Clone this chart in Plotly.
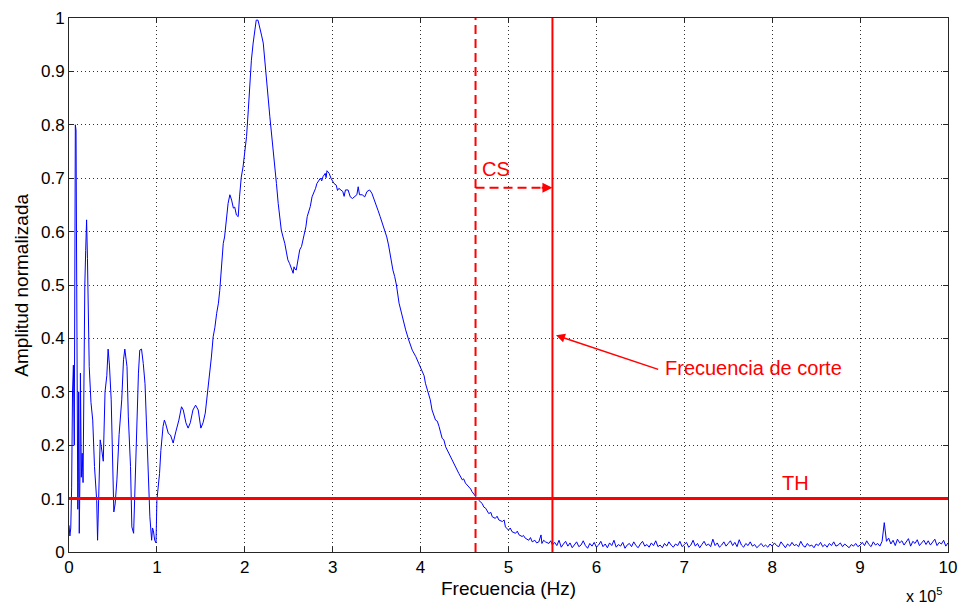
import numpy as np
import plotly.graph_objects as go

# Frequency in units of 1e5 Hz, normalized amplitude
freq_low = [0.0, 0.01, 0.02, 0.03, 0.04, 0.05, 0.06, 0.065, 0.072, 0.08, 0.085, 0.09, 0.095, 0.1,
            0.105, 0.11, 0.117, 0.125, 0.13, 0.14, 0.15, 0.16, 0.17, 0.18, 0.19, 0.2, 0.21, 0.22,
            0.23, 0.25, 0.27, 0.29, 0.305, 0.315, 0.325, 0.335, 0.345, 0.355, 0.365, 0.375, 0.39,
            0.41, 0.43, 0.445, 0.46, 0.48, 0.495, 0.51, 0.525, 0.545, 0.57, 0.6, 0.62, 0.635, 0.66,
            0.675, 0.7, 0.715, 0.735, 0.75, 0.77, 0.79, 0.805, 0.825, 0.845, 0.865, 0.88, 0.9,
            0.92, 0.94, 0.95, 0.96, 0.975, 0.99, 1.0, 1.03, 1.045, 1.07]
amp_low = [0.05, 0.03, 0.045, 0.12, 0.3, 0.35, 0.2, 0.45, 0.8, 0.79, 0.6, 0.48, 0.25, 0.08,
           0.13, 0.3, 0.035, 0.15, 0.335, 0.14, 0.185, 0.13, 0.44, 0.5, 0.565, 0.622, 0.55, 0.45,
           0.347, 0.28, 0.247, 0.16, 0.12, 0.097, 0.022, 0.1, 0.16, 0.21, 0.2, 0.19, 0.17,
           0.3, 0.33, 0.38, 0.35, 0.285, 0.16, 0.075, 0.09, 0.135, 0.22, 0.285, 0.36, 0.38, 0.347,
           0.253, 0.16, 0.047, 0.035, 0.13, 0.253, 0.335, 0.378, 0.38, 0.353, 0.315, 0.247, 0.16,
           0.066, 0.022, 0.045, 0.04, 0.022, 0.017, 0.097, 0.147, 0.19, 0.235]

freq_mid = [1.085, 1.1, 1.13, 1.155, 1.185, 1.215, 1.25, 1.28, 1.3, 1.33, 1.355, 1.38, 1.41, 1.44,
            1.47, 1.5, 1.525, 1.55, 1.575, 1.6, 1.62, 1.64, 1.66, 1.68, 1.7, 1.715, 1.735, 1.755,
            1.77, 1.79, 1.81, 1.83, 1.85, 1.87, 1.885, 1.905, 1.925, 1.94, 1.96, 1.98, 2.0, 2.02,
            2.04, 2.055, 2.075, 2.095, 2.115, 2.13, 2.15, 2.17, 2.19, 2.21, 2.225, 2.245, 2.265,
            2.285, 2.305, 2.32, 2.34, 2.36, 2.38, 2.4, 2.415, 2.435, 2.455, 2.475, 2.49, 2.51,
            2.53, 2.54, 2.55, 2.56, 2.57, 2.585, 2.6]
amp_mid = [0.247, 0.24, 0.222, 0.219, 0.204, 0.225, 0.247, 0.272, 0.266, 0.242, 0.232, 0.242, 0.266, 0.275,
           0.266, 0.232, 0.242, 0.26, 0.297, 0.328, 0.365, 0.403, 0.421, 0.447, 0.466, 0.49, 0.534, 0.578,
           0.59, 0.628, 0.653, 0.669, 0.659, 0.644, 0.646, 0.631, 0.628, 0.665, 0.702, 0.721, 0.747, 0.778,
           0.828, 0.878, 0.921, 0.953, 0.978, 0.996, 0.996, 0.984, 0.968, 0.953, 0.921, 0.89, 0.852,
           0.815, 0.784, 0.753, 0.721, 0.69, 0.653, 0.622, 0.603, 0.59, 0.578, 0.56, 0.547, 0.54,
           0.532, 0.525, 0.522, 0.534, 0.53, 0.528, 0.544]

freq_hump = [2.625, 2.645, 2.67, 2.695, 2.71, 2.725, 2.745, 2.765, 2.785, 2.805, 2.82, 2.835, 2.86,
             2.875, 2.89, 2.915, 2.925, 2.935, 2.96, 2.98, 3.0, 3.015, 3.04, 3.055, 3.07, 3.09,
             3.115, 3.13, 3.145, 3.175, 3.2, 3.225, 3.25, 3.275, 3.29, 3.305, 3.335, 3.365, 3.39,
             3.42, 3.445, 3.47, 3.495, 3.515, 3.54, 3.565, 3.59, 3.615, 3.635, 3.65, 3.665, 3.685,
             3.705, 3.725, 3.755, 3.79]
amp_hump = [0.566, 0.572, 0.59, 0.609, 0.628, 0.635, 0.647, 0.665, 0.672, 0.681, 0.69, 0.693, 0.7,
            0.695, 0.703, 0.709, 0.701, 0.714, 0.709, 0.7, 0.693, 0.69, 0.687, 0.677, 0.681, 0.678,
            0.675, 0.666, 0.678, 0.678, 0.665, 0.662, 0.665, 0.669, 0.684, 0.669, 0.669, 0.665, 0.675,
            0.678, 0.672, 0.659, 0.65, 0.64, 0.628, 0.616, 0.603, 0.59, 0.575, 0.559, 0.547, 0.528,
            0.516, 0.5, 0.466, 0.441]

freq_fall = [3.83, 3.865, 3.905, 3.945, 3.98, 4.02, 4.04, 4.055, 4.095, 4.11, 4.13, 4.17, 4.19, 4.21,
             4.245, 4.265, 4.285, 4.32, 4.34, 4.36, 4.4, 4.42, 4.435, 4.475, 4.49, 4.51, 4.55, 4.57,
             4.585, 4.625, 4.64, 4.66, 4.7, 4.72, 4.74, 4.775, 4.8, 4.815, 4.85, 4.87, 4.89, 4.93,
             4.95, 4.965, 5.0, 5.02, 5.04, 5.08, 5.1, 5.12, 5.155, 5.17, 5.19, 5.23, 5.25, 5.27,
             5.3, 5.32, 5.345, 5.37, 5.38, 5.4, 5.42, 5.46, 5.48, 5.5]
amp_fall = [0.416, 0.397, 0.378, 0.366, 0.353, 0.335, 0.33, 0.316, 0.291, 0.285, 0.266, 0.247, 0.245, 0.235,
            0.213, 0.21, 0.197, 0.185, 0.178, 0.172, 0.157, 0.153, 0.147, 0.135, 0.137, 0.129, 0.122, 0.118,
            0.113, 0.104, 0.1, 0.097, 0.091, 0.084, 0.082, 0.072, 0.074, 0.066, 0.063, 0.067, 0.06, 0.057,
            0.06, 0.047, 0.041, 0.045, 0.038, 0.035, 0.039, 0.032, 0.029, 0.031, 0.026, 0.022, 0.027, 0.019,
            0.022, 0.017, 0.019, 0.032, 0.016, 0.022, 0.019, 0.016, 0.021, 0.013]

# noise floor from 5.525 to 10.0 (step 0.025)
amp_tail = [
    .018, .012, .022, .009, .015, .02, .011, .017, .008, .014,
    .019, .01, .013, .021, .012, .007, .016, .011, .018, .009,
    .013, .02, .01, .015, .008, .017, .012, .022, .009, .014,
    .011, .018, .007, .013, .016, .01, .019, .012, .008, .015,
    .02, .011, .014, .009, .017, .012, .021, .01, .013, .008,
    .016, .011, .019, .013, .009, .015, .012, .02, .01, .014,
    .018, .009, .013, .022, .011, .016, .008, .014, .02, .012,
    .015, .01, .024, .012, .017, .009, .013, .019, .011, .016,
    .021, .012, .018, .01, .023, .013, .009, .016, .012, .019,
    .011, .014, .008, .012, .016, .01, .013, .009, .015, .011,
    .017, .012, .01, .019, .013, .008, .015, .011, .018, .012,
    .014, .01, .02, .012, .009, .016, .011, .013, .008, .015,
    .012, .018, .01, .014, .009, .016, .012, .019, .011, .013,
    .017, .01, .015, .012, .008, .014, .011, .016, .01, .013,
    .018, .012, .021, .014, .01, .019, .013, .016, .011, .02,
    .055, .02, .026, .015, .022, .012, .024, .017, .021, .013,
    .019, .025, .011, .02, .016, .023, .012, .018, .022, .014,
    .021, .013, .019, .024, .012, .018, .015, .022, .011, .017]
freq_tail = list(np.round(5.5 + 0.025 * np.arange(1, len(amp_tail) + 1), 3))

freq = freq_low + freq_mid + freq_hump + freq_fall + freq_tail
amp = amp_low + amp_mid + amp_hump + amp_fall + amp_tail

threshold = 0.1          # TH
cs_freq = 4.625          # crossing of threshold
cut_freq = 5.5           # cut-off frequency
cs_level = 0.682

x_ticks = list(range(0, 11))
y_ticks = [0, 0.1, 0.2, 0.3, 0.4, 0.5, 0.6, 0.7, 0.8, 0.9, 1]
y_tick_text = ["0", "0.1", "0.2", "0.3", "0.4", "0.5", "0.6", "0.7", "0.8", "0.9", "1"]

RED = "#FF0000"
FONT = "Liberation Sans, Arial, sans-serif"

fig = go.Figure()
fig.add_trace(go.Scatter(x=freq, y=amp, mode="lines",
                         line=dict(color="#0000FF", width=1), showlegend=False))

shapes = [
    dict(type="line", x0=0, x1=10, y0=threshold, y1=threshold, xref="x", yref="y",
         line=dict(color=RED, width=3)),
    dict(type="line", x0=cs_freq, x1=cs_freq, y0=0, y1=1, xref="x", yref="y",
         line=dict(color=RED, width=2, dash="9px,5px")),
    dict(type="line", x0=cut_freq, x1=cut_freq, y0=0, y1=1, xref="x", yref="y",
         line=dict(color=RED, width=2)),
    dict(type="line", x0=cs_freq, x1=cut_freq - 0.1, y0=cs_level, y1=cs_level, xref="x", yref="y",
         line=dict(color=RED, width=2, dash="9px,5px")),
]

annotations = [
    dict(x=cut_freq, y=cs_level, ax=cut_freq - 0.14, ay=cs_level, xref="x", yref="y",
         axref="x", ayref="y", text="", showarrow=True, arrowhead=2, arrowsize=1,
         arrowwidth=2, arrowcolor=RED),
    dict(x=4.86, y=0.717, xref="x", yref="y", text="CS", showarrow=False,
         font=dict(family=FONT, size=20, color=RED)),
    dict(x=5.54, y=0.406, ax=6.72, ay=0.341, xref="x", yref="y", axref="x", ayref="y",
         text="", showarrow=True, arrowhead=2, arrowsize=1.2, arrowwidth=1.5, arrowcolor=RED),
    dict(x=6.76, y=0.344, xref="x", yref="y", text="Frecuencia de corte", showarrow=False,
         xanchor="left", font=dict(family=FONT, size=20, color=RED)),
    dict(x=8.27, y=0.129, xref="x", yref="y", text="TH", showarrow=False,
         font=dict(family=FONT, size=20, color=RED)),
    dict(x=0.995, y=-0.08, xref="paper", yref="paper", text="x 10<sup>5</sup>", showarrow=False,
         xanchor="right", yanchor="middle", font=dict(family=FONT, size=16, color="black")),
    dict(x=0.5, y=-0.068, xref="paper", yref="paper", text="Frecuencia (Hz)", showarrow=False,
         xanchor="center", yanchor="middle", font=dict(family=FONT, size=19, color="black")),
    dict(x=-0.055, y=0.5, xref="paper", yref="paper", text="Amplitud normalizada", showarrow=False,
         textangle=-90, xanchor="center", yanchor="middle",
         font=dict(family=FONT, size=19, color="black")),
]

axis_common = dict(showline=True, linecolor="#262626", linewidth=1, mirror="ticks",
                   ticks="inside", ticklen=5, tickcolor="#262626", automargin=False,
                   showgrid=True, gridcolor="#333333", gridwidth=1, griddash="1px,3px",
                   zeroline=False, tickfont=dict(family=FONT, size=17, color="black"))

fig.update_layout(
    width=962, height=606,
    margin=dict(l=69, r=14, t=18, b=54, autoexpand=False),
    paper_bgcolor="white", plot_bgcolor="white",
    xaxis=dict(range=[0, 10], tickvals=x_ticks, **axis_common),
    yaxis=dict(range=[0, 1], tickvals=y_ticks, ticktext=y_tick_text, **axis_common),
    shapes=shapes, annotations=annotations,
)

fig.write_html("out.html")
